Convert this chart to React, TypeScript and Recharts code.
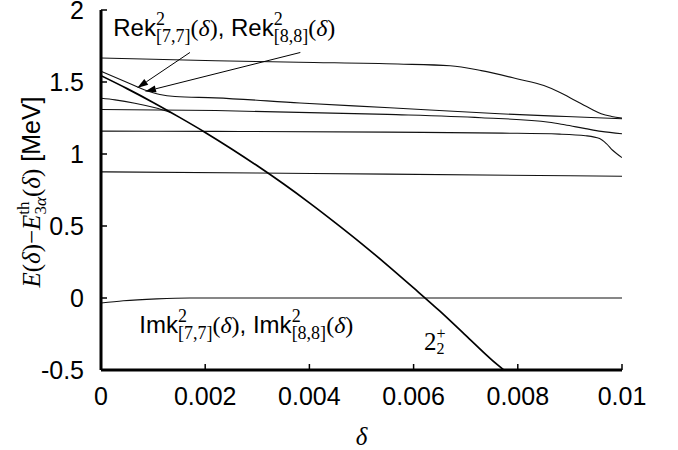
import React from "react";
import {
  LineChart,
  Line,
  XAxis,
  YAxis,
  ReferenceLine,
  ReferenceDot,
} from "recharts";

const SANS = "'Liberation Sans', Arial, sans-serif";
const SERIF = "'Liberation Serif', 'Times New Roman', serif";

// axis ticks
const deltaTicks = [0, 0.002, 0.004, 0.006, 0.008, 0.01];
const deltaTickLabels = ["0", "0.002", "0.004", "0.006", "0.008", "0.01"];
const energyTicks = [-0.5, 0, 0.5, 1, 1.5, 2];
const energyTickLabels = ["-0.5", "0", "0.5", "1", "1.5", "2"];

// upper level, bends down near delta = 0.009
const topDelta = [0, 0.0022, 0.0038, 0.0057, 0.0067, 0.0073, 0.008, 0.0085, 0.0088, 0.0091, 0.0094, 0.0096, 0.0098, 0.01];
const topEnergy = [1.667, 1.648, 1.637, 1.625, 1.613, 1.579, 1.521, 1.475, 1.429, 1.372, 1.314, 1.28, 1.261, 1.249];

// level pointed at by the arrows
const rekDelta = [0, 0.00046, 0.00084, 0.00113, 0.00142, 0.00219, 0.00382, 0.00554, 0.00765, 0.00893, 0.01];
const rekEnergy = [1.574, 1.504, 1.445, 1.413, 1.399, 1.39, 1.354, 1.321, 1.279, 1.26, 1.245];

// short branch that runs into the 2+ state
const branchDelta = [0, 0.00027, 0.00065, 0.00104, 0.00135];
const branchEnergy = [1.387, 1.376, 1.353, 1.321, 1.287];

// flat continuum levels
const level3Delta = [0, 0.0022, 0.0055, 0.0073, 0.0086, 0.0089, 0.0093, 0.0096, 0.01];
const level3Energy = [1.309, 1.302, 1.275, 1.252, 1.221, 1.203, 1.176, 1.157, 1.141];

const level4Delta = [0, 0.0022, 0.0055, 0.0077, 0.0088, 0.0093, 0.00957, 0.0097, 0.00982, 0.01];
const level4Energy = [1.159, 1.157, 1.152, 1.145, 1.138, 1.127, 1.107, 1.072, 1.026, 0.975];

const level5Delta = [0, 0.003, 0.0055, 0.01];
const level5Energy = [0.876, 0.868, 0.86, 0.846];

// imaginary part, close to zero
const imkDelta = [0, 0.00043, 0.00107, 0.0017, 0.004, 0.01];
const imkEnergy = [-0.035, -0.019, -0.006, 0, 0, 0];

// the 2_2^+ state
const stateDelta = [0, 0.0005, 0.001, 0.0015, 0.002, 0.0025, 0.003, 0.0035, 0.004, 0.0045, 0.005, 0.0055, 0.006, 0.0065, 0.007, 0.0075, 0.0078];
const stateEnergy = [1.544, 1.454, 1.358, 1.256, 1.15, 1.037, 0.918, 0.793, 0.661, 0.522, 0.378, 0.227, 0.07, -0.09, -0.26, -0.43, -0.52];

const toPoints = (d: number[], v: number[]) => d.map((x, i) => ({ d: x, v: v[i] }));

const thinLines = [
  toPoints(topDelta, topEnergy),
  toPoints(rekDelta, rekEnergy),
  toPoints(branchDelta, branchEnergy),
  toPoints(level3Delta, level3Energy),
  toPoints(level4Delta, level4Energy),
  toPoints(level5Delta, level5Energy),
  toPoints(imkDelta, imkEnergy),
];
const stateLine = toPoints(stateDelta, stateEnergy);

const XTick = (props: any) => {
  const { x, y, payload } = props;
  const label = deltaTickLabels[deltaTicks.indexOf(payload.value)];
  return (
    <g>
      <line x1={x} x2={x} y1={y} y2={y - 6} stroke="#000" strokeWidth={1.5} />
      <text x={x} y={y + 35} textAnchor="middle" fontFamily={SANS} fontSize={25} fill="#000">
        {label}
      </text>
    </g>
  );
};

const YTick = (props: any) => {
  const { x, y, payload } = props;
  const label = energyTickLabels[energyTicks.indexOf(payload.value)];
  return (
    <g>
      <line x1={x} x2={x + 6} y1={y} y2={y} stroke="#000" strokeWidth={1.5} />
      <text x={x - 17} y={y + 9} textAnchor="end" fontFamily={SANS} fontSize={25} fill="#000">
        {label}
      </text>
    </g>
  );
};

const YLabel = (props: any) => {
  const vb = props.viewBox;
  const cx = 40;
  const cy = vb.y + vb.height / 2 + 2;
  return (
    <text
      x={cx}
      y={cy}
      transform={`rotate(-90 ${cx} ${cy})`}
      textAnchor="middle"
      fontFamily={SERIF}
      fontSize={25}
      fill="#000"
    >
      <tspan fontStyle="italic">E</tspan>
      <tspan>(</tspan>
      <tspan fontStyle="italic">δ</tspan>
      <tspan>)−</tspan>
      <tspan fontStyle="italic">E</tspan>
      <tspan fontSize={17} dy={-11}>th</tspan>
      <tspan fontSize={17} dx={-13} dy={17}>3</tspan>
      <tspan fontSize={17} fontStyle="italic">α</tspan>
      <tspan dy={-6}>(</tspan>
      <tspan fontStyle="italic">δ</tspan>
      <tspan>)</tspan>
      <tspan fontFamily={SANS}> [MeV]</tspan>
    </text>
  );
};

const XLabel = (props: any) => {
  const vb = props.viewBox;
  return (
    <text
      x={vb.x + vb.width / 2}
      y={vb.y + 75}
      textAnchor="middle"
      fontFamily={SERIF}
      fontStyle="italic"
      fontSize={25}
      fill="#000"
    >
      δ
    </text>
  );
};

const kPart = (name: string, idx: string) => (
  <>
    <tspan fontFamily={SANS}>{name}</tspan>
    <tspan fontSize={18} dy={-11}>2</tspan>
    <tspan fontSize={18} dx={-9} dy={17}>{`[${idx}]`}</tspan>
    <tspan dy={-6}>(</tspan>
    <tspan fontStyle="italic">δ</tspan>
    <tspan>)</tspan>
  </>
);

const kLabel = (name: string) => (p: any) => (
  <text x={p.cx} y={p.cy} fontFamily={SERIF} fontSize={24} fill="#000">
    {kPart(name, "7,7")}
    <tspan fontFamily={SANS}>, </tspan>
    <tspan dx={2}></tspan>
    {kPart(name, "8,8")}
  </text>
);

const stateLabel = (p: any) => (
  <text x={p.cx} y={p.cy} fontFamily={SERIF} fontSize={25} fill="#000">
    <tspan>2</tspan>
    <tspan fontSize={16} dy={-11}>+</tspan>
    <tspan fontSize={16} dx={-9} dy={15}>2</tspan>
  </text>
);

const arrowShape = (p: any) => {
  const { x1, y1, x2, y2 } = p;
  const ang = Math.atan2(y2 - y1, x2 - x1);
  const c = Math.cos(ang);
  const s = Math.sin(ang);
  const bx = x2 - 11 * c;
  const by = y2 - 11 * s;
  const pts = `${x2},${y2} ${bx + 3.5 * s},${by - 3.5 * c} ${bx - 3.5 * s},${by + 3.5 * c}`;
  return (
    <g>
      <line x1={x1} y1={y1} x2={bx} y2={by} stroke="#000" strokeWidth={1} />
      <polygon points={pts} fill="#000" />
    </g>
  );
};

export default function App() {
  return (
    <div style={{ position: "absolute", left: 0, top: 0, background: "#fff" }}>
      <LineChart width={678} height={450} margin={{ top: 10, right: 56, bottom: 0, left: 0 }}>
        <XAxis
          type="number"
          dataKey="d"
          domain={[0, 0.01]}
          ticks={deltaTicks}
          allowDataOverflow
          tickSize={0}
          tickMargin={0}
          tickLine={false}
          tick={<XTick />}
          axisLine={{ stroke: "#000", strokeWidth: 3 }}
          height={80}
          label={XLabel}
        />
        <YAxis
          type="number"
          dataKey="v"
          domain={[-0.5, 2]}
          ticks={energyTicks}
          allowDataOverflow
          width={101}
          tickSize={0}
          tickMargin={0}
          tickLine={false}
          tick={<YTick />}
          axisLine={{ stroke: "#000", strokeWidth: 3 }}
          label={YLabel}
        />
        {thinLines.map((pts, i) => (
          <Line
            key={i}
            data={pts}
            dataKey="v"
            type="monotone"
            stroke="#111"
            strokeWidth={1.1}
            dot={false}
            activeDot={false}
            isAnimationActive={false}
          />
        ))}
        <Line
          data={stateLine}
          dataKey="v"
          type="monotone"
          stroke="#000"
          strokeWidth={1.7}
          dot={false}
          activeDot={false}
          isAnimationActive={false}
        />
        <ReferenceLine
          segment={[
            { x: 0.001707, y: 1.705 },
            { x: 0.000694, y: 1.458 },
          ]}
          shape={arrowShape}
        />
        <ReferenceLine
          segment={[
            { x: 0.003826, y: 1.705 },
            { x: 0.000844, y: 1.434 },
          ]}
          shape={arrowShape}
        />
        <ReferenceDot x={0.000236} y={1.819} r={0} ifOverflow="visible" shape={kLabel("Rek")} />
        <ReferenceDot x={0.000735} y={-0.241} r={0} ifOverflow="visible" shape={kLabel("Imk")} />
        <ReferenceDot x={0.0062} y={-0.361} r={0} ifOverflow="visible" shape={stateLabel} />
      </LineChart>
    </div>
  );
}
